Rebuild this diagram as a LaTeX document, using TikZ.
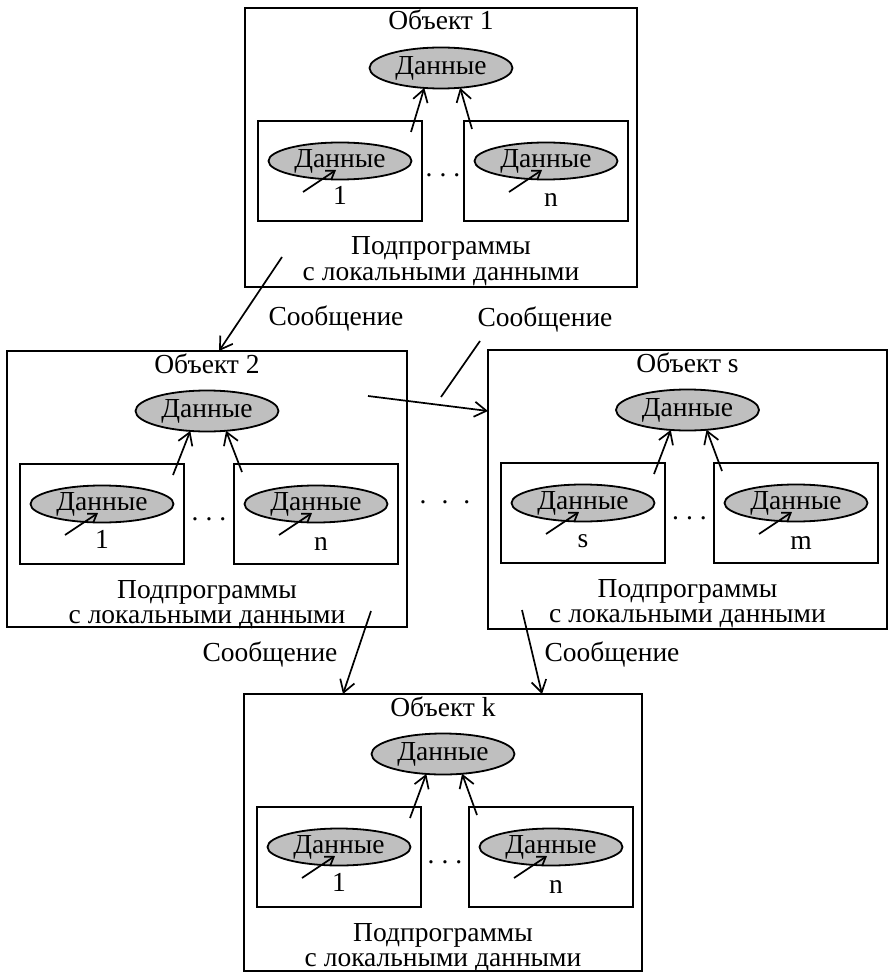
\documentclass[tikz,border=0pt]{standalone}
\usepackage{fontspec}
\setmainfont{Liberation Serif}
\usetikzlibrary{arrows.meta,shapes.geometric}
\newcommand\objfont{\fontsize{27.5}{25}\selectfont}
\tikzset{
  every node/.style={inner sep=0pt, outer sep=0pt, font=\objfont},
  outerbox/.style={draw, line width=1.9pt, anchor=north west},
  subbox/.style={draw, line width=1.8pt, minimum width=164pt, minimum height=100pt},
  dataell/.style={ellipse, draw, line width=1.8pt, fill=black!25, minimum width=143pt, minimum height=41pt},
  inell/.style={dataell, minimum height=37pt},
  conn/.style={line width=1.7pt, -{Straight Barb[length=12pt,width=15pt]}},
  smallconn/.style={line width=1.7pt, -{Straight Barb[length=8pt,width=11pt]}},
  plainline/.style={line width=1.7pt},
}
% #1 name, #2 X, #3 Y, #4 W, #5 H, #6 title, #7 left label, #8 right label
\newcommand\drawobj[8]{%
  \begin{scope}[shift={(#2,#3)}]
    \node[outerbox, minimum width=#4pt, minimum height=#5pt] (#1) at (0,0) {};
    \node[anchor=base] (#1-t) at (#4/2,22) {#6};
    \node[dataell] (#1-d) at (#4/2,60) {Данные};
    \node[subbox, anchor=north west] (#1-l) at (13,113) {};
    \node[subbox, anchor=north east] (#1-r) at (#4-9,113) {};
    \node[inell] (#1-ld) at (95,153) {Данные};
    \node[inell] (#1-rd) at (#4-91,153) {Данные};
    \coordinate (#1-la) at (95-37,153+31);
    \coordinate (#1-lt) at (95-4,153+9);
    \coordinate (#1-ra) at (#4-91-37,153+31);
    \coordinate (#1-rt) at (#4-91-4,153+9);
    \draw[smallconn] (#1-la) -- (#1-lt);
    \draw[smallconn] (#1-ra) -- (#1-rt);
    \node[anchor=base] (#1-ln) at (95,197) {#7};
    \node[anchor=base] (#1-rn) at (#4-86,199) {#8};
    \node[anchor=base] (#1-dots) at (#4/2+2,169) {.\hspace{7pt}.\hspace{7pt}.};
    \coordinate (#1-lu) at (177-11,113+11);
    \coordinate (#1-ru) at (#4-173+8,113+8);
    \draw[conn] (#1-lu) -- (#1-d.230);
    \draw[conn] (#1-ru) -- (#1-d.314);
    \node[anchor=base] (#1-s1) at (#4/2,247) {Подпрограммы};
    \node[anchor=base] (#1-s2) at (#4/2,272) {с локальными данными};
  \end{scope}}
\begin{document}
\begin{tikzpicture}[x=1pt,y=-1pt]
  \useasboundingbox (0,0) rectangle (890,973);
  \fill[white] (0,0) rectangle (890,973);
  \drawobj{oa}{245}{8}{392}{279}{Объект 1}{1}{n}
  \drawobj{ob}{7}{351}{400}{276}{Объект 2}{1}{n}
  \drawobj{os}{488}{350}{399}{279}{Объект s}{s}{m}
  \drawobj{ok}{244}{694}{398}{277}{Объект k}{1}{n}
  % outer dots
  \node[anchor=base] (midots) at (445,503) {.\hspace{15pt}.\hspace{15pt}.};
  % message 1 -> 2
  \coordinate (m1s) at (282,257);
  \draw[conn] (m1s) -- ([xshift=212pt]ob.north west);
  \node[anchor=base] (m1l) at (336,325) {Сообщение};
  % message 2 -> s
  \coordinate (m2s) at (368,396);
  \draw[conn] (m2s) -- ([yshift=-61pt]os.north west);
  \coordinate (t2a) at (480,341);
  \coordinate (t2b) at (441,397);
  \draw[plainline] (t2a) -- (t2b);
  \node[anchor=base] (m2l) at (545,326) {Сообщение};
  % message 2 -> k
  \coordinate (m3s) at (371,611);
  \draw[conn] (m3s) -- ([xshift=99pt]ok.north west);
  \node[anchor=base] (m3l) at (270,661) {Сообщение};
  % message s -> k
  \coordinate (m4s) at (522,610);
  \draw[conn] (m4s) -- ([xshift=298pt]ok.north west);
  \node[anchor=base] (m4l) at (612,661) {Сообщение};
\end{tikzpicture}
\end{document}
